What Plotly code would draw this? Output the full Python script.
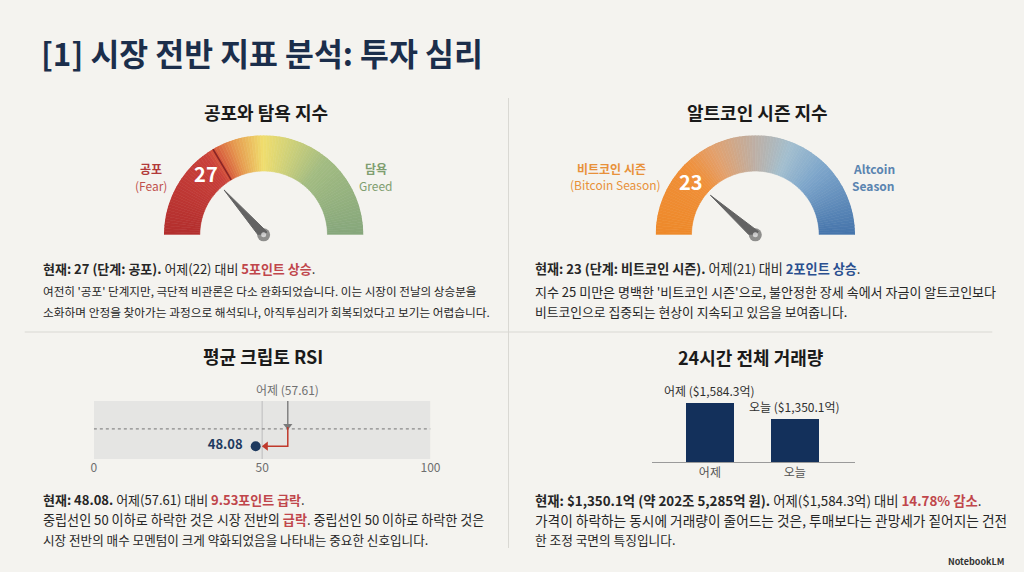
import plotly.graph_objects as go
import numpy as np

W, H = 1024, 572
FONT = "Noto Sans CJK KR"

# ---------------- data ----------------
FG_VALUE = 27
FG_PREV = 22
FG_FEAR_END = 33
FG_SIDE_LABELS = ["공포", "(Fear)", "담욕", "Greed"]

ALT_VALUE = 23
ALT_PREV = 21
ALT_SIDE_LABELS = ["비트코인 시즌", "(Bitcoin Season)", "Altcoin", "Season"]

RSI_VALUE = 48.08
RSI_PREV = 57.61
RSI_NEUTRAL = 50
RSI_TICKS = [0, 50, 100]

VOL_CATS = ["어제", "오늘"]
VOL_VALUES = [1584.3, 1350.1]
VOL_LABELS = ["어제 ($1,584.3억)", "오늘 ($1,350.1억)"]

# ---------------- styles ----------------
BG = "#f4f3ef"
NAVY = "#1b2e4b"
RED = "#c0464b"
BLUE = "#2a4f8f"
TXT = "#262626"

FG_STOPS = [(0, "#b32f2e"), (30, "#c9403a"), (33, "#d6553c"), (40, "#e69a50"),
            (50, "#f0de6e"), (60, "#cdd07a"), (72, "#a3bc82"), (100, "#86a77c")]
ALT_STOPS = [(0, "#ee8a2b"), (25, "#f08f38"), (35, "#e3a06c"), (50, "#bdb0a6"),
             (62, "#a3bfcf"), (75, "#7ea6cb"), (100, "#4574ab")]


def hex2rgb(h):
    h = h.lstrip("#")
    return [int(h[i:i + 2], 16) for i in (0, 2, 4)]


def interp(stops, p):
    for (p0, c0), (p1, c1) in zip(stops[:-1], stops[1:]):
        if p0 <= p <= p1:
            t = (p - p0) / (p1 - p0) if p1 > p0 else 0
            a, b = hex2rgb(c0), hex2rgb(c1)
            c = [round(a[i] + (b[i] - a[i]) * t) for i in range(3)]
            return "rgb(%d,%d,%d)" % tuple(c)
    return stops[-1][1]


def px(x):
    return x / W


def py(y):
    return 1 - y / H


fig = go.Figure()


def ang(v):
    return 180 - v * 1.8


def gauge(sub, value, stops, boundary=None):
    n = 100
    pos = np.arange(n) + 0.5
    cols = [interp(stops, p) for p in pos]
    fig.add_trace(go.Barpolar(
        r=[0.36] * n, base=[0.64] * n, theta=[ang(p) for p in pos], width=[1.8] * n,
        marker=dict(color=cols, line=dict(color=cols, width=0.6)),
        subplot=sub, hoverinfo="skip", showlegend=False))
    if boundary is not None:
        fig.add_trace(go.Scatterpolar(
            r=[0.64, 1.0], theta=[ang(boundary)] * 2, mode="lines",
            line=dict(color="#8a2525", width=1.6), subplot=sub,
            hoverinfo="skip", showlegend=False))
    a = ang(value)
    fig.add_trace(go.Scatterpolar(
        r=[0.045, 0.6, 0.045, 0.045], theta=[a + 90, a, a - 90, a + 90],
        mode="lines", fill="toself", fillcolor="#636363",
        line=dict(color="#636363", width=1), subplot=sub,
        hoverinfo="skip", showlegend=False))
    fig.add_trace(go.Scatterpolar(
        r=[0, 0], theta=[0, 0], mode="markers",
        marker=dict(size=[13, 5], color=["#636363", "#eeeeee"], line=dict(width=0)),
        subplot=sub, hoverinfo="skip", showlegend=False))
    fig.add_trace(go.Scatterpolar(
        r=[0.82], theta=[a + 3.5], mode="text", text=["<b>%d</b>" % value],
        textfont=dict(size=20, color="white", family=FONT), subplot=sub,
        hoverinfo="skip", showlegend=False))


gauge("polar", FG_VALUE, FG_STOPS, FG_FEAR_END)
gauge("polar2", ALT_VALUE, ALT_STOPS)

# ---------------- RSI ----------------
fig.add_trace(go.Scatter(
    x=[RSI_PREV, RSI_PREV], y=[1.02, 0.6], mode="lines",
    line=dict(color="#7a7a7a", width=1.4), xaxis="x", yaxis="y",
    hoverinfo="skip", showlegend=False))
fig.add_trace(go.Scatter(
    x=[RSI_PREV], y=[0.57], mode="markers",
    marker=dict(symbol="triangle-down", size=8, color="#7a7a7a"),
    xaxis="x", yaxis="y", hoverinfo="skip", showlegend=False))
fig.add_trace(go.Scatter(
    x=[RSI_PREV, RSI_PREV, RSI_VALUE + 3.2], y=[0.55, 0.22, 0.22], mode="lines",
    line=dict(color="#c0392b", width=1.5), xaxis="x", yaxis="y",
    hoverinfo="skip", showlegend=False))
fig.add_trace(go.Scatter(
    x=[RSI_VALUE + 3.0], y=[0.22], mode="markers",
    marker=dict(symbol="triangle-left", size=8, color="#c0392b"),
    xaxis="x", yaxis="y", hoverinfo="skip", showlegend=False))
fig.add_trace(go.Scatter(
    x=[RSI_VALUE], y=[0.22], mode="markers+text",
    marker=dict(size=10, color="#1e3a5f"),
    text=["<b>%.2f</b>  " % RSI_VALUE], textposition="middle left",
    textfont=dict(size=13, color="#1e3a5f", family=FONT),
    xaxis="x", yaxis="y", hoverinfo="skip", showlegend=False))

# ---------------- Volume ----------------
fig.add_trace(go.Bar(
    x=VOL_CATS, y=VOL_VALUES, marker=dict(color="#13305b", line=dict(width=0)),
    width=0.56, xaxis="x2", yaxis="y2", hoverinfo="skip", showlegend=False))

shapes = [
    dict(type="line", xref="paper", yref="paper", x0=px(512), x1=px(512),
         y0=py(98), y1=py(548), line=dict(color="#d9d8d3", width=1)),
    dict(type="line", xref="paper", yref="paper", x0=px(22), x1=px(1002),
         y0=py(332), y1=py(332), line=dict(color="#d9d8d3", width=1)),
    dict(type="rect", xref="x", yref="y", x0=0, x1=100, y0=0, y1=1,
         fillcolor="#e5e5e3", line=dict(width=0), layer="below"),
    dict(type="line", xref="x", yref="y", x0=RSI_NEUTRAL, x1=RSI_NEUTRAL,
         y0=0, y1=1, line=dict(color="#c4c4c4", width=1.2), layer="below"),
    dict(type="line", xref="x", yref="y", x0=0, x1=100, y0=0.52, y1=0.52,
         line=dict(color="#8a8a8a", width=1.2, dash="dot"), layer="below"),
]

ann = []


def txt(x, y, text, size, color, xanchor="left", yanchor="middle"):
    ann.append(dict(x=px(x), y=py(y), xref="paper", yref="paper", text=text,
                    showarrow=False, xanchor=xanchor, yanchor=yanchor,
                    font=dict(size=size, color=color, family=FONT)))


txt(36, 52, "<b>[1] 시장 전반 지표 분석: 투자 심리</b>", 31.4, NAVY)

txt(266, 112, "<b>공포와 탐욕 지수</b>", 18, "#1a1a1a", "center")
txt(764, 112, "<b>알트코인 시즌 지수</b>", 18, "#1a1a1a", "center")
txt(263, 356, "<b>평균 크립토 RSI</b>", 18, "#1a1a1a", "center")
txt(758, 357, "<b>24시간 전체 거래량</b>", 18, "#1a1a1a", "center")

# gauge side labels
txt(150, 169, "<b>%s</b>" % FG_SIDE_LABELS[0], 12, "#b23a3a", "center")
txt(150, 185, FG_SIDE_LABELS[1], 12, "#c0504d", "center")
txt(378, 169, "<b>%s</b>" % FG_SIDE_LABELS[2], 12, "#7f9e70", "center")
txt(378, 185, FG_SIDE_LABELS[3], 12, "#7f9e70", "center")
txt(616, 168, "<b>%s</b>" % ALT_SIDE_LABELS[0], 12, "#e8913a", "center")
txt(620, 184, ALT_SIDE_LABELS[1], 12, "#e8913a", "center")
txt(882, 169, "<b>%s</b>" % ALT_SIDE_LABELS[2], 12, "#5a84b0", "center")
txt(882, 185, "<b>%s</b>" % ALT_SIDE_LABELS[3], 12, "#5a84b0", "center")

# RSI yesterday label (x in data, y in paper)
ann.append(dict(x=RSI_PREV, y=py(390), xref="x", yref="paper", text="어제 (%.2f)" % RSI_PREV,
                showarrow=False, xanchor="center", yanchor="middle",
                font=dict(size=12, color="#707070", family=FONT)))

# volume labels above bars
for c, v, lab in zip(VOL_CATS, VOL_VALUES, VOL_LABELS):
    ann.append(dict(x=c, y=v, xref="x2", yref="y2", text=lab, showarrow=False,
                    xanchor="center", yanchor="bottom", yshift=2,
                    font=dict(size=12, color="#303030", family=FONT)))


def red(s):
    return "<span style='color:%s'><b>%s</b></span>" % (RED, s)


def blue(s):
    return "<span style='color:%s'><b>%s</b></span>" % (BLUE, s)


# block 1
txt(38, 268, "<b>현재: %d (단계: 공포).</b> 어제(%d) 대비 %s." % (FG_VALUE, FG_PREV, red("%d포인트 상승" % (FG_VALUE - FG_PREV))), 13, TXT)
txt(38, 291, "여전히 '공포' 단계지만, 극단적 비관론은 다소 완화되었습니다. 이는 시장이 전날의 상승분을", 11.6, TXT)
txt(38, 311, "소화하며 안정을 찾아가는 과정으로 해석되나, 아직투심리가 회복되었다고 보기는 어렵습니다.", 11.7, TXT)
# block 2
txt(537, 268, "<b>현재: %d (단계: 비트코인 시즌).</b> 어제(%d) 대비 %s." % (ALT_VALUE, ALT_PREV, blue("%d포인트 상승" % (ALT_VALUE - ALT_PREV))), 13.1, TXT)
txt(537, 291, "지수 25 미만은 명백한 '비트코인 시즌'으로, 불안정한 장세 속에서 자금이 알트코인보다", 13.0, TXT)
txt(537, 311, "비트코인으로 집중되는 현상이 지속되고 있음을 보여줍니다.", 12.8, TXT)
# block 3
txt(38, 499, "<b>현재: %.2f.</b> 어제(%.2f) 대비 %s." % (RSI_VALUE, RSI_PREV, red("%.2f포인트 급락" % (RSI_PREV - RSI_VALUE))), 13, TXT)
txt(38, 519, "중립선인 50 이하로 하락한 것은 시장 전반의 %s. 중립선인 50 이하로 하락한 것은" % red("급락"), 13.1, TXT)
txt(38, 539, "시장 전반의 매수 모멘텀이 크게 약화되었음을 나타내는 중요한 신호입니다.", 12.6, TXT)
# block 4
txt(537, 500, "<b>현재: $%s억 (약 202조 5,285억 원).</b> 어제($%s억) 대비 %s." % (
    f"{VOL_VALUES[1]:,.1f}", f"{VOL_VALUES[0]:,.1f}",
    red("%.2f%% 감소" % ((VOL_VALUES[0] - VOL_VALUES[1]) / VOL_VALUES[0] * 100))), 13.35, TXT)
txt(537, 520, "가격이 하락하는 동시에 거래량이 줄어드는 것은, 투매보다는 관망세가 짙어지는 건전", 13.7, TXT)
txt(537, 539, "한 조정 국면의 특징입니다.", 12.7, TXT)

txt(1016, 561, "<b>NotebookLM</b>", 9, "#333333", "right")

polar_common = dict(
    sector=[0, 180], hole=0, bgcolor="rgba(0,0,0,0)",
    radialaxis=dict(visible=False, range=[0, 1]),
    angularaxis=dict(visible=False, direction="counterclockwise", rotation=0),
)

fig.update_layout(
    width=W, height=H, margin=dict(l=0, r=0, t=0, b=0),
    paper_bgcolor=BG, plot_bgcolor="rgba(0,0,0,0)",
    font=dict(family=FONT),
    polar=dict(domain=dict(x=[px(163), px(365)], y=[py(236), py(134)]), **polar_common),
    polar2=dict(domain=dict(x=[px(661), px(863)], y=[py(236), py(134)]), **polar_common),
    xaxis=dict(domain=[px(92), px(433)], range=[0, 100], tickvals=RSI_TICKS,
               showgrid=False, zeroline=False, showline=False, ticks="",
               tickfont=dict(size=12, color="#6e6e6e", family=FONT), fixedrange=True),
    yaxis=dict(domain=[py(459), py(401)], range=[0, 1], visible=False, fixedrange=True),
    xaxis2=dict(domain=[px(657), px(863)], range=[-0.686, 1.709], type="category",
                showgrid=False, zeroline=False, showline=True, linecolor="#9a9a9a",
                linewidth=1, ticks="", tickfont=dict(size=12, color="#555555", family=FONT),
                anchor="y2"),
    yaxis2=dict(domain=[py(462), py(392)], range=[720, 1745], visible=False, anchor="x2"),
    shapes=shapes, annotations=ann, showlegend=False, bargap=0,
)

fig.write_html(
    "out.html",
    config={"displayModeBar": False},
    post_script="document.documentElement.style.overflow='hidden';"
                "document.documentElement.style.margin='0';"
                "document.body.style.margin='0';document.body.style.padding='0';"
                "document.body.style.overflow='hidden';"
                "document.body.style.background='%s';" % BG,
)
